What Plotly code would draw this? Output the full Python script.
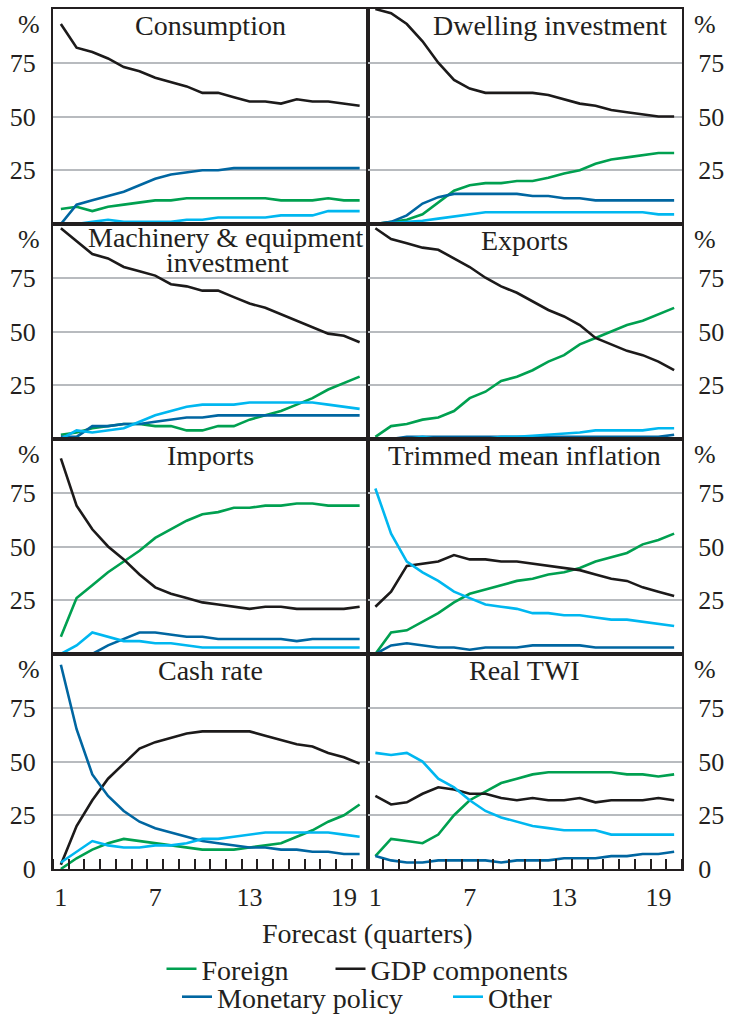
import plotly.graph_objects as go
from plotly.subplots import make_subplots

quarters = list(range(1, 21))
x_tick_labels = [1, 7, 13, 19]
y_tick_values = [25, 50, 75]

panel_titles = ["Consumption", "Dwelling investment", "Machinery & equipment",
                "Exports", "Imports", "Trimmed mean inflation", "Cash rate", "Real TWI"]
series_names = ["Foreign", "GDP components", "Monetary policy", "Other"]

consumption_foreign = [7, 8, 6, 8, 9, 10, 11, 11, 12, 12, 12, 12, 12, 12, 11, 11, 11, 12, 11, 11]
consumption_gdp = [93, 82, 80, 77, 73, 71, 68, 66, 64, 61, 61, 59, 57, 57, 56, 58, 57, 57, 56, 55]
consumption_monetary = [0, 9, 11, 13, 15, 18, 21, 23, 24, 25, 25, 26, 26, 26, 26, 26, 26, 26, 26, 26]
consumption_other = [0, 0, 1, 2, 1, 1, 1, 1, 2, 2, 3, 3, 3, 3, 4, 4, 4, 6, 6, 6]

dwelling_foreign = [0, 1, 2, 4.5, 10, 15.5, 18, 19, 19, 20, 20, 21.5, 23.5, 25, 28, 30, 31, 32, 33, 33]
dwelling_gdp = [100, 98, 93, 85, 75, 67, 63, 61, 61, 61, 61, 60, 58, 56, 55, 53, 52, 51, 50, 50]
dwelling_monetary = [0, 1, 4, 9.5, 12.5, 14, 14, 14, 14, 14, 13, 13, 12, 12, 11, 11, 11, 11, 11, 11]
dwelling_other = [0, 0.5, 1, 1.5, 2.5, 3.5, 4.5, 5.5, 5.5, 5.5, 5.5, 5.5, 5.5, 5.5, 5.5, 5.5, 5.5, 5.5, 4.5, 4.5]

machinery_foreign = [2, 3, 5, 6, 7, 7, 6, 6, 4, 4, 6, 6, 9, 11, 13, 16, 19, 23, 26, 29]
machinery_gdp = [98, 92, 86, 84, 80, 78, 76, 72, 71, 69, 69, 66, 63, 61, 58, 55, 52, 49, 48, 45]
machinery_monetary = [1, 1, 6, 6, 7, 7, 8, 9, 10, 10, 11, 11, 11, 11, 11, 11, 11, 11, 11, 11]
machinery_other = [0, 4, 3, 4, 5, 8, 11, 13, 15, 16, 16, 16, 17, 17, 17, 17, 17, 16, 15, 14]

exports_foreign = [1, 6, 7, 9, 10, 13, 19, 22, 27, 29, 32, 36, 39, 44, 47, 50, 53, 55, 58, 61]
exports_gdp = [98, 93, 91, 89, 88, 84, 80, 75, 71, 68, 64, 60, 57, 53, 47, 44, 41, 39, 36, 32]
exports_monetary = [0, 0, 1, 1, 1, 1, 1, 1, 1, 1, 1, 1, 1, 1, 1, 1, 1, 1, 1, 2]
exports_other = [0, 0, 0, 1, 0, 0, 0, 0, 1, 1, 1.5, 2, 2.5, 3, 4, 4, 4, 4, 5, 5]

imports_foreign = [8, 26, 32, 38, 43, 48, 54, 58, 62, 65, 66, 68, 68, 69, 69, 70, 70, 69, 69, 69]
imports_gdp = [91, 69, 58, 50, 44, 37, 31, 28, 26, 24, 23, 22, 21, 22, 22, 21, 21, 21, 21, 22]
imports_monetary = [0, 0, 0, 4, 7, 10, 10, 9, 8, 8, 7, 7, 7, 7, 7, 6, 7, 7, 7, 7]
imports_other = [0, 4, 10, 8, 6, 6, 5, 5, 4, 3, 3, 3, 3, 3, 3, 3, 3, 3, 3, 3]

inflation_foreign = [0, 10, 11, 15, 19, 24, 28, 30, 32, 34, 35, 37, 38, 40, 43, 45, 47, 51, 53, 56]
inflation_gdp = [22, 29, 41, 42, 43, 46, 44, 44, 43, 43, 42, 41, 40, 39, 37, 35, 34, 31, 29, 27]
inflation_monetary = [0, 4, 5, 4, 3, 3, 2, 3, 3, 3, 4, 4, 4, 4, 3, 3, 3, 3, 3, 3]
inflation_other = [77, 56, 43, 38, 34, 29, 26, 23, 22, 21, 19, 19, 18, 18, 17, 16, 16, 15, 14, 13]

cash_foreign = [0, 5, 9, 12, 14, 13, 12, 11, 10, 9, 9, 9, 10, 11, 12, 15, 18, 22, 25, 30]
cash_gdp = [2, 20, 32, 42, 49, 56, 59, 61, 63, 64, 64, 64, 64, 62, 60, 58, 57, 54, 52, 49]
cash_monetary = [95, 65, 44, 34, 27, 22, 19, 17, 15, 13, 12, 11, 10, 10, 9, 9, 8, 8, 7, 7]
cash_other = [3, 8, 13, 11, 10, 10, 11, 11, 12, 14, 14, 15, 16, 17, 17, 17, 17, 17, 16, 15]

twi_foreign = [6, 14, 13, 12, 16, 25, 32, 36, 40, 42, 44, 45, 45, 45, 45, 45, 44, 44, 43, 44]
twi_gdp = [34, 30, 31, 35, 38, 37, 35, 35, 33, 32, 33, 32, 32, 33, 31, 32, 32, 32, 33, 32]
twi_monetary = [6, 4, 3, 3, 4, 4, 4, 4, 3, 4, 4, 4, 5, 5, 5, 6, 6, 7, 7, 8]
twi_other = [54, 53, 54, 50, 42, 38, 32, 27, 24, 22, 20, 19, 18, 18, 18, 16, 16, 16, 16, 16]

panels = [
    (consumption_foreign, consumption_gdp, consumption_monetary, consumption_other),
    (dwelling_foreign, dwelling_gdp, dwelling_monetary, dwelling_other),
    (machinery_foreign, machinery_gdp, machinery_monetary, machinery_other),
    (exports_foreign, exports_gdp, exports_monetary, exports_other),
    (imports_foreign, imports_gdp, imports_monetary, imports_other),
    (inflation_foreign, inflation_gdp, inflation_monetary, inflation_other),
    (cash_foreign, cash_gdp, cash_monetary, cash_other),
    (twi_foreign, twi_gdp, twi_monetary, twi_other),
]

colors = ["#00a050", "#1c1a1a", "#0066a1", "#00b7f0"]
legend_ids = ["legend", "legend", "legend2", "legend2"]
legend_widths = [124, None, 226, None]
FONT = "Liberation Serif"
INK = "#231f20"

fig = make_subplots(rows=4, cols=2, horizontal_spacing=0, vertical_spacing=0)

for p, series in enumerate(panels):
    r, c = p // 2 + 1, p % 2 + 1
    for s, vals in enumerate(series):
        tr = go.Scatter(x=quarters, y=vals, mode="lines", name=series_names[s],
                        line=dict(color=colors[s], width=2.6),
                        showlegend=(p == 0), legend=legend_ids[s])
        if legend_widths[s] is not None:
            tr.update(legendwidth=legend_widths[s])
        fig.add_trace(tr, row=r, col=c)

for p in range(8):
    r, c = p // 2 + 1, p % 2 + 1
    bottom = (r == 4)
    fig.update_xaxes(row=r, col=c, range=[0.5, 20.5], showgrid=False, zeroline=False,
                     showline=True, mirror=True, linecolor=INK, linewidth=2,
                     tickmode="array", tickvals=x_tick_labels, ticks="",
                     showticklabels=bottom, ticklabelstandoff=4,
                     tickfont=dict(family=FONT, size=26, color=INK),
                     minor=dict(tickmode="linear", tick0=0.5, dtick=1, ticks="inside",
                                ticklen=10, tickwidth=1.5, tickcolor=INK, showgrid=False) if bottom else None)
    fig.update_yaxes(row=r, col=c, range=[0, 100], showgrid=True, gridcolor="#b8bbbf", gridwidth=1.5,
                     zeroline=False, showline=True, mirror=True, linecolor=INK, linewidth=2,
                     tickmode="array", tickvals=([0] + y_tick_values) if bottom else y_tick_values,
                     ticks="", side="left" if c == 1 else "right",
                     ticklabelstandoff=10 if c == 1 else 9,
                     tickfont=dict(family=FONT, size=26, color=INK))

annotations = []
title_x = [10.5, 12.1, 11.5, 10.5, 10.5, 10.5, 10.5, 10.5]
title_shift = [1, 1, 4, 1, 1, 1, 1, 1]
for p in range(8):
    r, c = p // 2 + 1, p % 2 + 1
    n = "" if p == 0 else str(p + 1)
    annotations.append(dict(xref="x" + n, yref="y" + n + " domain", x=title_x[p], y=1,
                            yanchor="top", yshift=title_shift[p], text=panel_titles[p], showarrow=False,
                            font=dict(family=FONT, size=28, color=INK)))
    annotations.append(dict(xref="x" + n + " domain", yref="y" + n, x=0 if c == 1 else 1, y=93,
                            xanchor="right" if c == 1 else "left", xshift=-11 if c == 1 else 10,
                            yanchor="middle", text="%", showarrow=False,
                            font=dict(family=FONT, size=26, color=INK)))
annotations.append(dict(xref="x3", yref="y3 domain", x=11.6, y=1, yanchor="top", yshift=-21,
                        text="investment", showarrow=False, font=dict(family=FONT, size=28, color=INK)))
annotations.append(dict(xref="paper", yref="paper", x=0.5, y=-0.0754, yanchor="middle",
                        text="Forecast (quarters)", showarrow=False,
                        font=dict(family=FONT, size=28, color=INK)))

legend_common = dict(orientation="h", xref="paper", x=0.5, xanchor="center", yref="container",
                     yanchor="middle", font=dict(family=FONT, size=28, color=INK),
                     bgcolor="rgba(0,0,0,0)", borderwidth=0, itemwidth=30)

fig.update_layout(
    width=731, height=1016,
    margin=dict(l=53, r=44, t=7, b=147),
    paper_bgcolor="white", plot_bgcolor="white",
    font=dict(family=FONT, color=INK),
    annotations=annotations,
    legend=dict(**legend_common, y=1 - 969 / 1016),
    legend2=dict(**legend_common, y=1 - 997 / 1016),
)

fig.write_html("out.html", config={"displayModeBar": False},
               post_script="document.documentElement.style.margin='0';"
                           "document.body.style.margin='0';"
                           "document.body.style.overflow='hidden';")
